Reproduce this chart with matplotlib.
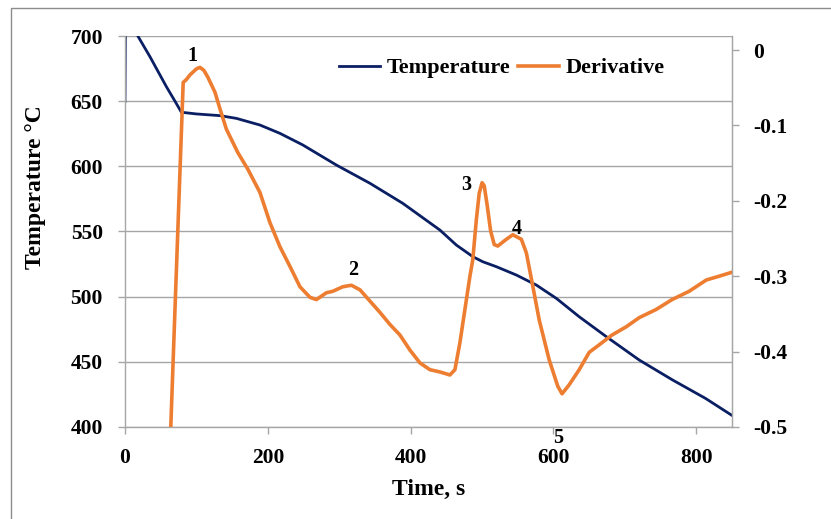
import matplotlib
matplotlib.use("Agg")
import matplotlib.pyplot as plt
from matplotlib.patches import Rectangle

plt.rcParams['font.family'] = ['Liberation Serif', 'DejaVu Serif']
plt.rcParams['font.weight'] = 'bold'
plt.rcParams['axes.unicode_minus'] = False

# Cooling curve: time (s) and temperature (°C)
temp_time = [0, 1, 10, 18, 35, 58, 70, 79, 100, 133, 156, 189, 217, 249, 296,
             343, 389, 441, 464, 487, 501, 520, 548, 576, 604, 636, 674, 720,
             767, 813, 849]
temp_vals = [650, 745, 718, 700, 684.1, 661.1, 650.0, 641.5, 640.2, 638.9,
             636.8, 631.7, 625.3, 616.4, 601.0, 587.0, 571.6, 551.1, 539.6,
             530.7, 526.8, 523.0, 516.6, 508.9, 498.7, 484.6, 469.3, 451.4,
             436.0, 421.9, 409.2]

# First derivative of the cooling curve
deriv_time = [63, 70, 81.5, 86, 91, 100, 105, 110.5, 116, 126, 133, 142, 158,
              172, 189, 203, 217, 231, 245, 259, 268, 282, 291, 305, 317, 329,
              343, 357, 371, 385, 399, 413, 427, 441, 455, 462, 469, 476, 483,
              487, 492, 496, 500, 503, 507, 512, 517, 522, 534, 543, 555, 562,
              571, 580, 594, 606, 612, 622, 636, 650, 664, 682, 702, 720, 744,
              766, 790, 814, 832, 849]
deriv_vals = [-0.53, -0.344, -0.043, -0.039, -0.033, -0.025, -0.023, -0.027,
              -0.036, -0.056, -0.078, -0.105, -0.136, -0.158, -0.189, -0.229,
              -0.261, -0.287, -0.314, -0.328, -0.331, -0.322, -0.320, -0.314,
              -0.312, -0.318, -0.333, -0.348, -0.364, -0.378, -0.398, -0.415,
              -0.424, -0.427, -0.431, -0.424, -0.388, -0.344, -0.300, -0.278,
              -0.225, -0.190, -0.176, -0.180, -0.205, -0.240, -0.258, -0.260,
              -0.251, -0.245, -0.251, -0.269, -0.313, -0.358, -0.411, -0.446,
              -0.456, -0.444, -0.424, -0.401, -0.391, -0.378, -0.367, -0.355,
              -0.344, -0.331, -0.320, -0.305, -0.300, -0.295]

# Peak markers on the derivative curve
peak_labels = ['1', '2', '3', '4', '5']
peak_time = [95, 320, 478, 549, 607]
peak_deriv = [-0.008, -0.292, -0.179, -0.237, -0.515]

x_ticks = [0, 200, 400, 600, 800]
left_ticks = [400, 450, 500, 550, 600, 650, 700]
right_ticks = [0, -0.1, -0.2, -0.3, -0.4, -0.5]

navy = '#0A1E63'
orange = '#ED7D31'
grey = '#A6A6A6'

fig = plt.figure(figsize=(8.31, 5.19), dpi=100)
fig.patches.append(Rectangle((11 / 831, -0.1), 1.2, 1 - 8 / 519 + 0.1,
                             transform=fig.transFigure, fill=False,
                             edgecolor='#8C8C8C', linewidth=1.0))

ax = fig.add_axes([0.1504, 0.1773, 0.7305, 0.7533])
ax.plot(temp_time, temp_vals, color=navy, linewidth=2.0, label='Temperature',
        solid_joinstyle='round')
ax.set_xlim(0, 850)
ax.set_ylim(400, 700)
ax.set_xticks(x_ticks)
ax.set_yticks(left_ticks)
ax.yaxis.grid(True, color=grey, linewidth=1.0)
ax.set_axisbelow(True)
for side in ['left', 'bottom', 'right']:
    ax.spines[side].set_color(grey)
    ax.spines[side].set_linewidth(1.0)
ax.spines['top'].set_visible(False)
ax.tick_params(axis='both', colors=grey, length=5, width=1.0, labelsize=15.5,
               labelcolor='black')
ax.tick_params(axis='y', pad=11)
ax.tick_params(axis='x', pad=10)
for lab in ax.get_xticklabels() + ax.get_yticklabels():
    lab.set_fontweight('bold')
ax.set_xlabel('Time, s', fontsize=17, fontweight='bold', labelpad=8)
ax.set_ylabel('Temperature °C', fontsize=17, fontweight='bold')
ax.yaxis.set_label_coords(-0.13, 0.614)

ax2 = ax.twinx()
ax2.plot(deriv_time, deriv_vals, color=orange, linewidth=2.6, label='Derivative',
         solid_joinstyle='round')
ax2.set_ylim(-0.5, 0.0186)
ax2.set_yticks(right_ticks)
ax2.set_yticklabels(['0', '-0.1', '-0.2', '-0.3', '-0.4', '-0.5'])
for side in ['left', 'bottom', 'top']:
    ax2.spines[side].set_visible(False)
ax2.spines['right'].set_color(grey)
ax2.tick_params(axis='y', colors=grey, length=5, width=1.0, labelsize=15.5,
                labelcolor='black', pad=10)
for lab in ax2.get_yticklabels():
    lab.set_fontweight('bold')

for txt, t, d in zip(peak_labels, peak_time, peak_deriv):
    ax2.text(t, d, txt, fontsize=14.5, fontweight='bold', ha='center',
             va='center', clip_on=False)

h1, l1 = ax.get_legend_handles_labels()
h2, l2 = ax2.get_legend_handles_labels()
leg = ax2.legend(h1 + h2, l1 + l2, ncol=2, loc='center',
                 bbox_to_anchor=(0.621, 0.918), frameon=False,
                 prop={'family': 'Liberation Serif', 'weight': 'bold', 'size': 16},
                 handlelength=1.85, handletextpad=0.3, columnspacing=0.35,
                 borderpad=0.2)

fig.savefig('out.png', dpi=100)
